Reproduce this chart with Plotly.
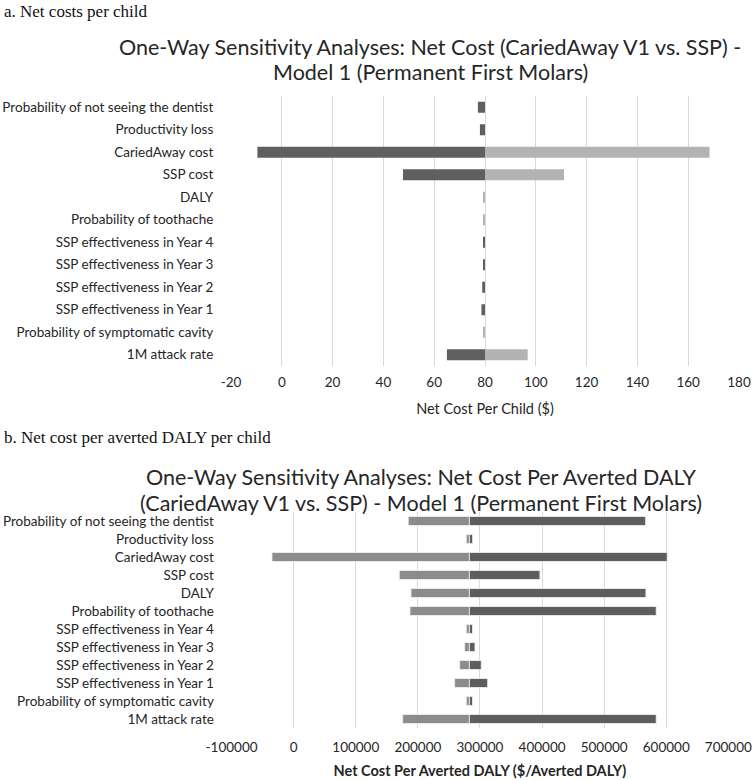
import plotly.graph_objects as go

categories = [
    "Probability of not seeing the dentist",
    "Productivity loss",
    "CariedAway cost",
    "SSP cost",
    "DALY",
    "Probability of toothache",
    "SSP effectiveness in Year 4",
    "SSP effectiveness in Year 3",
    "SSP effectiveness in Year 2",
    "SSP effectiveness in Year 1",
    "Probability of symptomatic cavity",
    "1M attack rate",
]

# Panel a: net cost per child ($), base case = 80
top_base = 80
top_dark_end = [77.2, 78.0, -9.6, 47.7, 80, 80, 79.2, 79.2, 78.9, 78.6, 80, 65.0]
top_light_end = [80, 80, 168.4, 111.1, 79.5, 79.5, 80, 80, 80, 80, 79.3, 96.8]
top_ticks = [-20, 0, 20, 40, 60, 80, 100, 120, 140, 160, 180]

# Panel b: net cost per averted DALY, base case ~283000
bot_base = 283000
bot_light_end = [184500, 278000, -35000, 170100, 188900, 187300, 278000, 275300, 267300, 259200, 278000, 175500]
bot_dark_end = [566800, 288200, 601600, 396600, 567300, 583900, 288000, 292000, 302100, 312400, 288000, 583900]
bot_ticks = [-100000, 0, 100000, 200000, 300000, 400000, 500000, 600000, 700000]

W, H = 756, 780
FONT = "Lato"
TXT = "#262626"


def rel(ends, base):
    return [e - base for e in ends]


fig = go.Figure()
for ends, color in [(top_dark_end, "#5f5f5f"), (top_light_end, "#b3b3b3")]:
    fig.add_trace(go.Bar(y=categories, x=rel(ends, top_base), base=top_base, orientation="h",
                         marker=dict(color=color, line=dict(width=0)), width=0.49,
                         xaxis="x", yaxis="y", showlegend=False, hoverinfo="skip"))
for ends, color in [(bot_light_end, "#8c8c8c"), (bot_dark_end, "#5e5e5e")]:
    fig.add_trace(go.Bar(y=categories, x=rel(ends, bot_base), base=bot_base, orientation="h",
                         marker=dict(color=color, line=dict(width=0.8, color="#f2f2f2")), width=0.5,
                         xaxis="x2", yaxis="y2", showlegend=False, hoverinfo="skip"))


def px_x(p):
    return p / W


def px_y(p):
    return 1 - p / H


axis_common = dict(showgrid=True, gridcolor="#d9d9d9", gridwidth=1, zeroline=False,
                   showline=False, automargin=False, tickfont=dict(family=FONT, size=13.5, color=TXT))
yaxis_common = dict(range=[11.5, -0.5], type="category", categoryorder="array", categoryarray=categories,
                    ticks="outside", ticklen=14, tickcolor="rgba(0,0,0,0)", automargin=False,
                    showgrid=False, zeroline=False, showline=False,
                    tickfont=dict(family=FONT, size=13.5, color=TXT))

fig.update_layout(
    width=W, height=H,
    margin=dict(l=0, r=0, t=0, b=0),
    paper_bgcolor="white", plot_bgcolor="white",
    barmode="overlay",
    font=dict(family=FONT, color=TXT),
    xaxis=dict(domain=[px_x(231), px_x(739)], range=[-20, 180], tickvals=top_ticks,
               ticktext=[str(v) for v in top_ticks],
               anchor="y", ticks="outside", ticklen=4, tickcolor="rgba(0,0,0,0)",
               title=dict(text="Net Cost Per Child ($)", font=dict(family=FONT, size=14.5, color=TXT), standoff=14),
               **axis_common),
    yaxis=dict(domain=[px_y(366), px_y(96)], anchor="x", **yaxis_common),
    xaxis2=dict(domain=[px_x(231.6), px_x(728.3)], range=[-100000, 700000], tickvals=bot_ticks,
                ticktext=[str(v) for v in bot_ticks],
                anchor="y2", ticks="outside", ticklen=7, tickcolor="rgba(0,0,0,0)",
                title=dict(text="<b>Net Cost Per Averted DALY ($/Averted DALY)</b>",
                           font=dict(family=FONT, size=14.5, color=TXT), standoff=11),
                **axis_common),
    yaxis2=dict(domain=[px_y(728), px_y(512)], anchor="x2", **yaxis_common),
)

TSZ = 21.5
annotations = [
    dict(text="a. Net costs per child", x=px_x(2), y=px_y(12), xanchor="left", yanchor="middle",
         font=dict(family="Liberation Serif", size=17, color="#111")),
    dict(text="One-Way Sensitivity Analyses: Net Cost (CariedAway V1 vs. SSP) -", x=px_x(430), y=px_y(47),
         xanchor="center", yanchor="middle", font=dict(family=FONT, size=TSZ, color=TXT)),
    dict(text="Model 1 (Permanent First Molars)", x=px_x(430), y=px_y(72),
         xanchor="center", yanchor="middle", font=dict(family=FONT, size=TSZ, color=TXT)),
    dict(text="b. Net cost per averted DALY per child", x=px_x(2), y=px_y(437), xanchor="left", yanchor="middle",
         font=dict(family="Liberation Serif", size=17, color="#111")),
    dict(text="One-Way Sensitivity Analyses: Net Cost Per Averted DALY", x=px_x(421), y=px_y(477),
         xanchor="center", yanchor="middle", font=dict(family=FONT, size=TSZ, color=TXT)),
    dict(text="(CariedAway V1 vs. SSP) - Model 1 (Permanent First Molars)", x=px_x(421), y=px_y(503),
         xanchor="center", yanchor="middle", font=dict(family=FONT, size=TSZ, color=TXT)),
]
for a in annotations:
    a.update(xref="paper", yref="paper", showarrow=False)
fig.update_layout(annotations=annotations)

# remove the browser's default 8px body margin so the 756x780 figure fills the window exactly
fig.write_html("out.html", config={"displayModeBar": False},
               post_script="document.body.style.margin='0';document.body.style.overflow='hidden';")
